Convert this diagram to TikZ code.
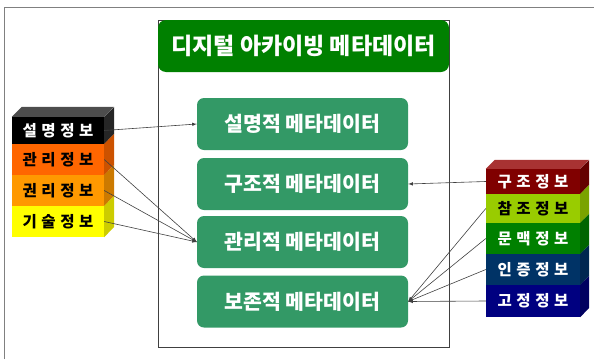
\documentclass[tikz,border=0pt]{standalone}
\usepackage{fontspec}
\setmainfont{Noto Sans CJK KR}
\usepackage{tikz}
\usetikzlibrary{arrows,calc}
\definecolor{dm_head}{RGB}{0, 128, 0}
\definecolor{dm_box}{RGB}{51, 153, 102}
\definecolor{dm_line}{RGB}{64, 64, 64}
\definecolor{st_black}{RGB}{0, 0, 0}
\definecolor{st_blacktop}{RGB}{77, 77, 77}
\definecolor{st_blackside}{RGB}{38, 38, 38}
\definecolor{st_orange}{RGB}{255, 102, 0}
\definecolor{st_orangeside}{RGB}{204, 82, 0}
\definecolor{st_amber}{RGB}{255, 153, 0}
\definecolor{st_amberside}{RGB}{204, 122, 0}
\definecolor{st_yellow}{RGB}{255, 255, 0}
\definecolor{st_yellowside}{RGB}{204, 204, 0}
\definecolor{st_red}{RGB}{128, 0, 0}
\definecolor{st_redtop}{RGB}{168, 50, 50}
\definecolor{st_redside}{RGB}{100, 0, 0}
\definecolor{st_lime}{RGB}{153, 204, 0}
\definecolor{st_limeside}{RGB}{122, 163, 0}
\definecolor{st_green}{RGB}{0, 128, 0}
\definecolor{st_greenside}{RGB}{0, 100, 0}
\definecolor{st_teal}{RGB}{0, 51, 102}
\definecolor{st_tealside}{RGB}{0, 38, 80}
\definecolor{st_navy}{RGB}{0, 0, 128}
\definecolor{st_navyside}{RGB}{0, 0, 96}
\tikzstyle{head}=[fill=dm_head,rounded corners=8pt,inner sep=0pt,
  minimum width=291pt,minimum height=52pt,text=white,font=\fontsize{23}{27}\selectfont\bfseries]
\tikzstyle{meta}=[fill=dm_box,rounded corners=7pt,inner sep=0pt,
  minimum width=211pt,minimum height=52pt,text=white,font=\fontsize{20.5}{24}\selectfont\bfseries]
\tikzstyle{frame}=[draw=dm_line,line width=0.8pt,inner sep=0pt,
  minimum width=291pt,minimum height=327pt]
\tikzstyle{layer}=[inner sep=0pt,minimum width=92pt,
  font=\fontsize{15.5}{18}\selectfont\bfseries\addfontfeature{LetterSpace=30}]
\tikzstyle{link}=[draw=dm_line,line width=0.6pt,-latex]
\tikzstyle{none}=[]

\begin{document}
\begin{tikzpicture}[x=1pt, y=-1pt]
            \useasboundingbox (0,0) rectangle (594,359);
            \draw [draw=gray, line width=0.8pt] (4,359) -- (4,7) -- (594,7);
            % inner frame
            \node [style=frame] (frm) at (303.5, 183.5) {};
            \node [style=head] (hdr) at (303.5, 46) {디지털 아카이빙 메타데이터};
            \node [style=meta] (m1) at (302.5, 124) {설명적 메타데이터};
            \node [style=meta] (m2) at (302.5, 184) {구조적 메타데이터};
            \node [style=meta] (m3) at (302.5, 242) {관리적 메타데이터};
            \node [style=meta] (m4) at (302.5, 301.5) {보존적 메타데이터};
            % left stack
            \node [style=layer, fill=st_black, text=white, minimum height=27pt] (l1) at (58, 130.5) {설명정보};
            \node [style=layer, fill=st_orange, minimum height=31pt] (l2) at (58, 159.5) {관리정보};
            \node [style=layer, fill=st_amber, minimum height=31pt] (l3) at (58, 190.5) {권리정보};
            \node [style=layer, fill=st_yellow, minimum height=31pt] (l4) at (58, 221.5) {기술정보};
            \fill [st_blacktop] (l1.north west) -- ++(10,-10) -- ++(92,0) -- (l1.north east) -- cycle;
            \fill [st_blackside] (l1.north east) -- ++(10,-10) -- ++(0,27) -- (l1.south east) -- cycle;
            \fill [st_orangeside] (l2.north east) -- ++(10,-10) -- ++(0,31) -- (l2.south east) -- cycle;
            \fill [st_amberside] (l3.north east) -- ++(10,-10) -- ++(0,31) -- (l3.south east) -- cycle;
            \fill [st_yellowside] (l4.north east) -- ++(10,-10) -- ++(0,31) -- (l4.south east) -- cycle;
            % right stack
            \node [style=layer, minimum width=94pt, fill=st_red, text=white, minimum height=25pt] (r1) at (533, 181.5) {구조정보};
            \node [style=layer, minimum width=94pt, fill=st_lime, minimum height=29pt] (r2) at (533, 208.5) {참조정보};
            \node [style=layer, minimum width=94pt, fill=st_green, text=white, minimum height=31pt] (r3) at (533, 238.5) {문맥정보};
            \node [style=layer, minimum width=94pt, fill=st_teal, text=white, minimum height=31pt] (r4) at (533, 269.5) {인증정보};
            \node [style=layer, minimum width=94pt, fill=st_navy, text=white, minimum height=32pt] (r5) at (533, 301) {고정정보};
            \fill [st_redtop] (r1.north west) -- ++(9,-9) -- ++(94,0) -- (r1.north east) -- cycle;
            \fill [st_redside] (r1.north east) -- ++(9,-9) -- ++(0,25) -- (r1.south east) -- cycle;
            \fill [st_limeside] (r2.north east) -- ++(9,-9) -- ++(0,29) -- (r2.south east) -- cycle;
            \fill [st_greenside] (r3.north east) -- ++(9,-9) -- ++(0,31) -- (r3.south east) -- cycle;
            \fill [st_tealside] (r4.north east) -- ++(9,-9) -- ++(0,31) -- (r4.south east) -- cycle;
            \fill [st_navyside] (r5.north east) -- ++(9,-9) -- ++(0,32) -- (r5.south east) -- cycle;
            % arrows
            \draw [style=link] (l1.east) to (m1.west);
            \draw [style=link] (l2.east) to (m3.west);
            \draw [style=link] (l3.east) to (m3.west);
            \draw [style=link] (l4.east) to (m3.west);
            \draw [style=link] (r1.west) to (m2.east);
            \draw [style=link] (r2.west) to (m4.east);
            \draw [style=link] (r3.west) to (m4.east);
            \draw [style=link] (r4.west) to (m4.east);
            \draw [style=link] (r5.west) to (m4.east);
    \end{tikzpicture}
\end{document}
